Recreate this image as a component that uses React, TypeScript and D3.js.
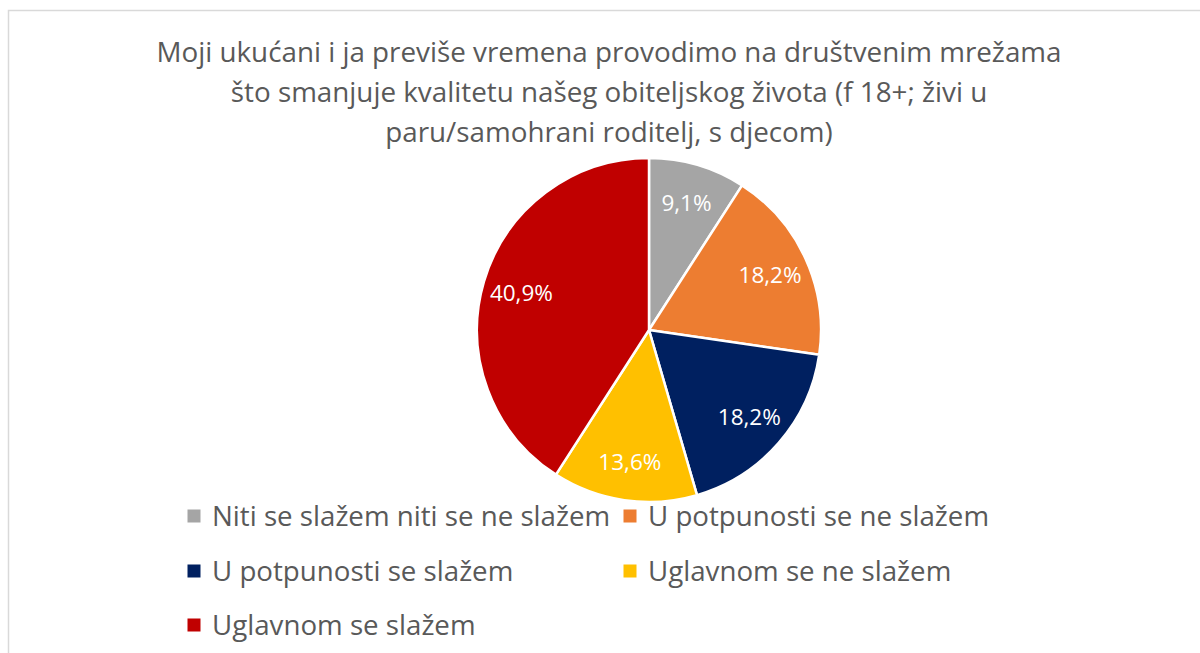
import React from 'react';
import * as d3 from 'd3';

const categories = [
  'Niti se slažem niti se ne slažem',
  'U potpunosti se ne slažem',
  'U potpunosti se slažem',
  'Uglavnom se ne slažem',
  'Uglavnom se slažem',
];
const values = [9.1, 18.2, 18.2, 13.6, 40.9];
const valueLabels = ['9,1%', '18,2%', '18,2%', '13,6%', '40,9%'];
const colors = ['#A5A5A5', '#ED7D31', '#002060', '#FFC000', '#C00000'];
const titleLines = [
  'Moji ukućani i ja previše vremena provodimo na društvenim mrežama',
  'što smanjuje kvalitetu našeg obiteljskog života (f 18+; živi u',
  'paru/samohrani roditelj, s djecom)',
];

const FONT = '"Open Sans", Lato, sans-serif';
const TEXT = '#595959';

export default function App() {
  const cx = 649;
  const cy = 330;
  const R = 172;
  const pie = d3.pie<number>().sort(null).value((d) => d);
  const arcs = pie(values);
  const arc = d3.arc<d3.PieArcDatum<number>>().innerRadius(0).outerRadius(R);
  const labelArc = d3.arc<d3.PieArcDatum<number>>().innerRadius(133).outerRadius(133);

  const legendCols = [187.5, 623.5];
  const legendRows = [516, 571, 625];

  return (
    <svg
      width={1200}
      height={653}
      style={{ position: 'absolute', left: 0, top: 0, background: '#fff' }}
    >
      <rect x={8.5} y={10.5} width={1250} height={700} fill="#fff" stroke="#D9D9D9" strokeWidth={1.5} />
      <g fontFamily={FONT} fill={TEXT} fontSize={27.8} textAnchor="middle">
        {titleLines.map((t, i) => (
          <text key={i} x={609} y={62 + i * 39.8}>
            {t}
          </text>
        ))}
      </g>
      <g transform={`translate(${cx},${cy})`}>
        {arcs.map((a, i) => (
          <path key={i} d={arc(a) || ''} fill={colors[i]} stroke="#fff" strokeWidth={2.5} strokeLinejoin="round" />
        ))}
        {arcs.map((a, i) => {
          const [x, y] = labelArc.centroid(a);
          return (
            <text
              key={'l' + i}
              x={x}
              y={y}
              dy="0.36em"
              textAnchor="middle"
              fontFamily={FONT}
              fontSize={22.5}
              fill="#fff"
            >
              {valueLabels[i]}
            </text>
          );
        })}
      </g>
      <g fontFamily={FONT} fontSize={27.7} fill={TEXT}>
        {categories.map((c, i) => {
          const x = legendCols[i % 2];
          const y = legendRows[Math.floor(i / 2)];
          return (
            <g key={c}>
              <rect x={x} y={y - 6.5} width={13} height={13} fill={colors[i]} />
              <text x={x + 24.5} y={y + 10}>
                {c}
              </text>
            </g>
          );
        })}
      </g>
    </svg>
  );
}
